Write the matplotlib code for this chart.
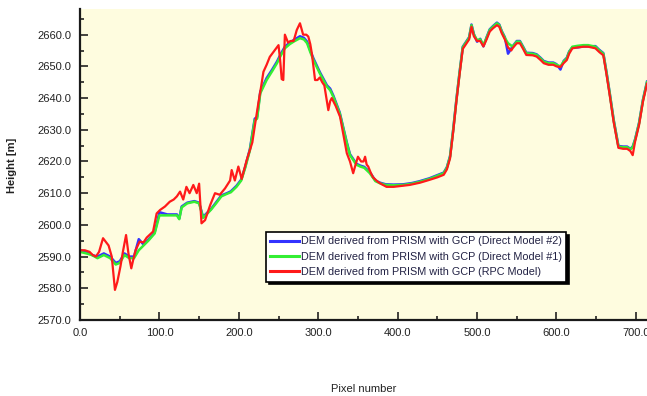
import matplotlib
matplotlib.use("Agg")
import matplotlib.pyplot as plt
from matplotlib.ticker import MultipleLocator, FormatStrFormatter

plt.rcParams['font.family'] = ['Liberation Sans', 'DejaVu Sans']

green_x = [0, 8, 15, 22, 30, 38, 45, 50, 56, 62, 68, 74, 80, 86, 94, 100, 110, 122, 125, 128,
           135, 144, 150, 155, 160, 165, 172, 178, 185, 190, 197, 203, 208, 214, 220, 223, 227,
           235, 242, 248, 253, 258, 264, 269, 277, 282, 286, 290, 294, 302, 311, 315, 319, 327,
           332, 336, 340, 344, 348, 353, 358, 365, 372, 378, 385, 395, 407, 418, 428, 440, 450,
           458, 462, 466, 470, 474, 478, 482, 486, 490, 493, 496, 500, 504, 508, 512, 516, 520,
           525, 528, 531, 535, 539, 545, 550, 554, 558, 562, 570, 575, 580, 584, 590, 596, 600,
           605, 609, 613, 616, 620, 627, 634, 640, 649, 654, 659, 663, 667, 672, 678, 684, 689,
           693, 696, 699, 704, 709, 714]
green_y = [2591.5, 2591, 2590.5, 2589.5, 2590.5, 2589.5, 2587.5, 2588, 2590.5, 2589.5, 2589.5,
           2592, 2593.5, 2595, 2597.3, 2603, 2603, 2603, 2601.8, 2605.5, 2606.8, 2607.3, 2606.8,
           2602.2, 2603.5, 2604.8, 2607, 2609, 2609.8, 2610.3, 2612, 2614, 2618, 2623.6, 2633,
           2633.5, 2641.5, 2645.7, 2648.5, 2651, 2653.5, 2655.7, 2657, 2657.8, 2658.9, 2658.5,
           2657.3, 2654.5, 2652, 2647.8, 2643.6, 2642.5, 2640.4, 2635.2, 2630, 2625.7, 2622,
           2620.5, 2619, 2618.4, 2618, 2616.3, 2613.8, 2613.1, 2612.6, 2612.5, 2612.6, 2613,
           2613.6, 2614.5, 2615.5, 2616.3, 2618, 2621.5, 2630, 2639.4, 2648, 2656, 2657.5, 2659,
           2663, 2660, 2658.3, 2658.5, 2656.7, 2659, 2661.5, 2662.5, 2663.6, 2663, 2661, 2659,
           2657.3, 2656.2, 2657.8, 2657.8, 2656, 2654.1, 2654, 2653.6, 2652.5, 2651.5, 2651,
           2651, 2650.5, 2650, 2651.5, 2652.5, 2654.5, 2656.2, 2656.5, 2656.7, 2656.7, 2656.2,
           2655, 2654, 2648, 2641.5, 2633, 2624.7, 2624.5, 2624.5, 2623.8, 2624.5, 2626.8, 2632,
           2639.4, 2645]

blue_y = [2592, 2591.5, 2590.5, 2590, 2591, 2590, 2588, 2588.5, 2591, 2590, 2590,
          2595.5, 2593.8, 2595.3, 2597.6, 2604, 2603.3, 2603.3, 2602, 2605.8, 2607, 2607.5, 2607,
          2602.5, 2603.8, 2605, 2607.3, 2609.3, 2610, 2610.6, 2612.3, 2614.3, 2618.3, 2624, 2633.5,
          2634, 2642, 2646.3, 2649, 2651.5, 2654, 2656.2, 2657.5, 2658.3, 2659.5, 2659,
          2657.8, 2655, 2652.5, 2648.2, 2644, 2643, 2640.8, 2635.5, 2630.3, 2626, 2622.3,
          2620.8, 2619.3, 2618.7, 2618.3, 2616.6, 2614, 2613.3, 2612.8, 2612.7, 2612.8, 2613.2,
          2613.8, 2614.7, 2615.7, 2616.5, 2618.2, 2621.7, 2630.2, 2639.6, 2648.2, 2656.2, 2657.7, 2659.2,
          2663.2, 2660.2, 2657.8, 2658.7, 2656.3, 2659.2, 2661.7, 2662.7, 2663.8, 2663.2, 2661.2, 2659.2,
          2654, 2656.4, 2658, 2658, 2656.2, 2654.3, 2654.2, 2653.8, 2652.7, 2651.7, 2651.2,
          2651.2, 2650.7, 2649, 2651.7, 2652.7, 2654.7, 2656, 2656, 2656.3, 2656.3, 2656.4,
          2655.2, 2654.2, 2648.2, 2641.7, 2633.2, 2624.9, 2624.7, 2624.7, 2624, 2624.7, 2627,
          2632.2, 2639.6, 2645.2]

red_x = [0, 6, 12, 16, 20, 24, 29, 33, 36, 40, 44, 47, 51, 54, 58, 61, 64.6, 67, 70, 75, 80, 84,
         92, 96.5, 100.8, 107, 113, 118, 122, 126, 130, 134, 138, 142.7, 147, 150, 153,
         157.5, 164, 170, 176, 182.6, 189, 191, 195, 199.4, 203.6, 210, 214, 217, 220, 224.6,
         228, 231, 235, 239, 245, 250, 252, 254, 256, 258, 262, 265, 269, 273, 277, 281, 285,
         287.5, 290, 292, 296, 299, 302, 305, 307.7, 312.7, 315, 317, 322, 327.5, 332, 336, 340,
         344, 347, 350, 354, 357, 359, 361, 363, 366, 369, 375, 380, 386, 395, 405, 415, 428, 440,
         450, 458, 462, 466, 470, 474, 478, 482, 486, 490, 493, 496, 500, 504, 508, 512, 516, 520,
         525, 528, 531, 535, 539, 543, 545, 550, 554, 558, 562, 570, 575, 580, 584, 590, 596, 600,
         605, 609, 613, 616, 620, 627, 634, 640, 649, 654, 659, 663, 667, 672, 678, 684, 689, 693,
         696, 699, 704, 709, 714]
red_y = [2592, 2592, 2591.5, 2590.5, 2590, 2591.5, 2595.8, 2594.5, 2593.5, 2590, 2579.5, 2582,
         2587, 2591.5, 2596.8, 2591, 2586.3, 2589, 2592, 2594.7, 2594.5, 2596, 2597.9, 2603.6,
         2604.7, 2605.8, 2607.3, 2608, 2609, 2610.5, 2608, 2612, 2610, 2612.6, 2610, 2613, 2600.5,
         2601.5, 2606.3, 2610, 2609.5, 2611.5, 2614, 2617.3, 2614, 2618.4, 2614.5, 2620.5, 2623.6,
         2626, 2631, 2638.4, 2643.5, 2648.3, 2650.5, 2653,
         2655, 2656.7, 2652, 2646, 2645.7, 2660, 2657.5, 2658, 2658, 2661.5, 2663.6, 2660, 2660,
         2659.4, 2657, 2654, 2645.7, 2645.7, 2646.5, 2645, 2644, 2636.2, 2639, 2640, 2637.5,
         2634.1, 2628, 2622.6, 2620, 2616.3, 2619, 2621.5, 2620, 2620, 2621.5, 2619, 2618.4,
         2616.5, 2615, 2613.6, 2612.8, 2612, 2612, 2612.3, 2612.6, 2613.3, 2614.2, 2615, 2615.8,
         2617.5, 2621, 2629.5, 2639, 2647.5, 2655.5, 2657, 2658.5, 2662.5, 2659.5, 2658, 2658,
         2656.3, 2658.5, 2661, 2662, 2663, 2662.5, 2660.5, 2658.5, 2656, 2655, 2655.8, 2657.3,
         2657.3, 2655.5, 2653.6, 2653.5, 2653.1, 2652, 2651, 2650.5, 2650.5, 2650, 2649.8, 2651,
         2652, 2654, 2655.7, 2656, 2656.2, 2656.2, 2655.7, 2654.5, 2653.5, 2647.5, 2641, 2632.5,
         2624.3, 2624, 2624, 2623.3, 2622, 2626.3, 2631.5, 2639, 2644.5]

labels = ["DEM derived from PRISM with GCP (Direct Model #2)",
          "DEM derived from PRISM with GCP (Direct Model #1)",
          "DEM derived from PRISM with GCP (RPC Model)"]

W, H = 647, 396
fig = plt.figure(figsize=(W / 100, H / 100), dpi=100)
ax = fig.add_axes([80 / W, 1 - 320 / H, 1 - 80 / W, (320 - 9) / H])
ax.set_facecolor("#FEFCDF")

ax.plot(green_x, blue_y, color="#3333FF", lw=1.8, label=labels[0])
ax.plot(green_x, green_y, color="#33EE33", lw=1.8, label=labels[1])
ax.plot(red_x, red_y, color="#FF1A1A", lw=1.6, label=labels[2])

ax.set_xlim(0, 714)
ax.set_ylim(2570, 2668.1)
ax.xaxis.set_major_locator(MultipleLocator(100))
ax.xaxis.set_minor_locator(MultipleLocator(50))
ax.yaxis.set_major_locator(MultipleLocator(10))
ax.yaxis.set_minor_locator(MultipleLocator(5))
ax.xaxis.set_major_formatter(FormatStrFormatter("%.1f"))
ax.yaxis.set_major_formatter(FormatStrFormatter("%.1f"))
ax.tick_params(which="both", direction="in", color="#222222", width=1.2, labelsize=8,
               labelcolor="#222222")
ax.tick_params(which="major", length=6)
ax.tick_params(which="minor", length=3)
ax.tick_params(axis="y", pad=6)
ax.tick_params(axis="x", pad=6)
for s in ["top", "right"]:
    ax.spines[s].set_visible(False)
for s in ["left", "bottom"]:
    ax.spines[s].set_linewidth(1.6)
    ax.spines[s].set_color("#1a1a1a")

leg = ax.legend(loc="upper left", bbox_to_anchor=(266 / W, 1 - 232 / H),
                bbox_transform=fig.transFigure, fontsize=7.8, frameon=True, fancybox=False,
                shadow={"color": "black", "alpha": 1.0}, handlelength=2.6, handletextpad=0.2,
                labelspacing=0.5, borderpad=0.4, borderaxespad=0)
leg.get_frame().set_edgecolor("black")
leg.get_frame().set_linewidth(1.2)
for t in leg.get_texts():
    t.set_color("#222244")
for l in leg.get_lines():
    l.set_linewidth(2.2)

fig.text(12 / W, 1 - 165 / H, "Height [m]", rotation=90, ha="center", va="center",
         fontsize=8, fontweight="bold", color="#222222")
fig.text(364 / W, 1 - 389 / H, "Pixel number", ha="center", va="center", fontsize=8,
         color="#222222")

fig.savefig("out.png", dpi=100, facecolor="white")
